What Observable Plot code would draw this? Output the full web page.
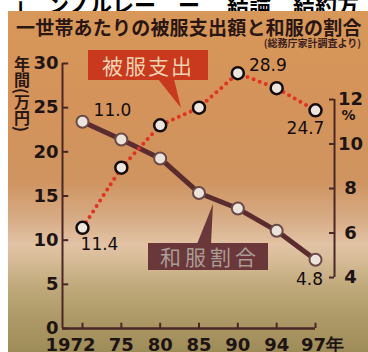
<!DOCTYPE html>
<html><head><meta charset="utf-8">
<script src="https://cdn.jsdelivr.net/npm/d3@7"></script>
<script src="https://cdn.jsdelivr.net/npm/@observablehq/plot@0.6"></script>
<style>
body{margin:0;background:#fff;}
#wrap{position:relative;width:368px;height:352px;overflow:hidden;background:#fff;font-family:"DejaVu Sans",sans-serif;}
#top{position:absolute;left:0;top:0;width:368px;height:11px;overflow:hidden;}
#top span{position:absolute;left:14px;top:-13px;font:bold 22px "Noto Sans CJK JP";color:#000;white-space:pre;}
#bg{position:absolute;left:8px;top:11px;right:0;bottom:0;
 background:linear-gradient(to bottom,#d89859 0px,#d4935a 90px,#cf9460 170px,#d6aa82 205px,#e2c3a5 234px,#d8bc98 248px,#c0aa7c 275px,#ae9a68 305px,#9e8c58 341px);}
#chart{position:absolute;left:0;top:0;}
.ov{position:absolute;white-space:nowrap;}
#title{left:16px;top:17px;font:bold 19px/1 "Noto Sans CJK JP";color:#2a1614;letter-spacing:0.2px;}
#sub{right:7px;top:38px;font:bold 10px/1 "Noto Sans CJK JP";color:#3a2020;}
#ytitle{left:14px;top:56px;font:bold 16px/1 "Noto Sans CJK JP";color:#2a1614;writing-mode:vertical-rl;}
#redbox{left:88px;top:50px;width:120px;height:30px;background:#c8391e;color:#f0d2b0;font:21px/30px "Noto Sans CJK JP";text-align:center;letter-spacing:2px;}
#brownbox{left:148px;top:243px;width:120px;height:27px;background:#6a383a;color:#aa9c96;font:21px/27px "Noto Sans CJK JP";text-align:center;letter-spacing:4px;text-indent:4px;}
#ptr{position:absolute;left:0;top:0;}
</style></head>
<body><div id="wrap">
<div id="top"><span>」　ンノルレー　ー　 結論　結約方</span></div>
<div id="bg"></div>
<div id="chart"></div>
<svg id="ptr" width="368" height="352"><polygon points="158,79 174,79 181,108" fill="#c8391e"/><polygon points="197,244 211,244 213,204" fill="#6a383a"/></svg>
<div class="ov" id="title">一世帯あたりの被服支出額と和服の割合</div>
<div class="ov" id="sub">(総務庁家計調査より)</div>
<div class="ov" id="ytitle">年間(万円)</div>
<div class="ov" id="redbox">被服支出</div>
<div class="ov" id="brownbox">和服割合</div>
</div>
<script>
const years = ["1972","75","80","85","90","94","97年"];
const spending = [11.4, 18.2, 23.0, 25.0, 28.9, 27.2, 24.7];
const kimonoShare = [11.0, 10.2, 9.35, 7.8, 7.1, 6.1, 4.8];
const leftTicks = [0,5,10,15,20,25,30];
const rightTicks = [4,6,8,10,12];
const spendLabels = [{i:0, v:11.4, t:"11.4"},{i:4, v:28.9, t:"28.9"},{i:6, v:24.7, t:"24.7"}];
const shareLabels = [{i:0, v:11.0, t:"11.0"},{i:6, v:4.8, t:"4.8"}];

const data = years.map((y,i)=>({i, year:y, spend:spending[i], share:kimonoShare[i]}));
// right axis (%) mapped onto the left scale
const pctToY = p => 5.77 + (p-4)*2.519;
const xMin = -0.515, xR = 6.49;
const axisColor = "#4a2626";

const chart = Plot.plot({
  width:368, height:352,
  marginLeft:62, marginRight:53, marginTop:63, marginBottom:24,
  style:{background:"transparent", overflow:"visible", fontFamily:"DejaVu Sans"},
  x:{type:"linear", domain:[xMin,6], axis:null},
  y:{domain:[0,30], axis:null},
  marks:[
    // left axis
    Plot.ruleX([xMin], {y1:0, y2:30, stroke:axisColor, strokeWidth:2}),
    Plot.ruleY(leftTicks, {y:d=>d, x1:xMin, x2:xMin+0.16, stroke:axisColor, strokeWidth:2}),
    Plot.text(leftTicks, {x:xMin, y:d=>d, text:d=>String(d), textAnchor:"end", dx:-4, fontSize:18, fontWeight:"bold", fill:"#1e1414"}),
    // bottom axis
    Plot.ruleY([0], {x1:xMin, x2:6, stroke:axisColor, strokeWidth:2.5}),
    Plot.ruleX(d3.range(years.length), {x:d=>d, y1:0, y2:0.6, stroke:axisColor, strokeWidth:2}),
    Plot.text(years.slice(0,1), {x:0, y:0, text:d=>d, dy:17, dx:-12, fontSize:18, fontWeight:"bold", fill:"#1e1414"}),
    Plot.text(years.slice(1,6), {x:(d,i)=>i+1, y:0, text:d=>d, dy:17, fontSize:18, fontWeight:"bold", fill:"#1e1414"}),
    Plot.text(years.slice(6), {x:6, y:0, text:d=>d, dy:17, dx:7, fontSize:18, fontWeight:"bold", fill:"#1e1414"}),
    // right axis
    Plot.ruleX([xR], {y1:pctToY(4), y2:pctToY(12), stroke:axisColor, strokeWidth:2}),
    Plot.ruleY(rightTicks, {y:pctToY, x1:xR-0.13, x2:xR, stroke:axisColor, strokeWidth:2}),
    Plot.text(rightTicks, {x:xR, y:pctToY, text:d=>String(d), dx:16, fontSize:18, fontWeight:"bold", fill:"#1e1414"}),
    Plot.text(["%"], {x:xR, y:pctToY(12), text:d=>d, dx:14, dy:16, fontSize:14, fontWeight:"bold", fill:"#1e1414"}),
    // kimono share line
    Plot.line(data, {x:"i", y:d=>pctToY(d.share), stroke:"#5a2c2e", strokeWidth:5}),
    // spending dotted line
    Plot.line(data, {x:"i", y:"spend", stroke:"#e03322", strokeWidth:4, strokeDasharray:"0,6.5", strokeLinecap:"round"}),
    Plot.dot(data, {x:"i", y:d=>pctToY(d.share), r:6, fill:"#ece4da", stroke:"#6a4a48", strokeWidth:2}),
    Plot.dot(data, {x:"i", y:"spend", r:6, fill:"#eee6dc", stroke:"#140c0c", strokeWidth:2.5}),
    // value labels
    Plot.text(spendLabels.slice(0,1), {x:"i", y:"v", text:"t", dx:17, dy:17, fontSize:17, fill:"#140c0c"}),
    Plot.text(spendLabels.slice(1,2), {x:"i", y:"v", text:"t", dx:30, dy:-8, fontSize:17, fill:"#140c0c"}),
    Plot.text(spendLabels.slice(2,3), {x:"i", y:"v", text:"t", dx:-10, dy:18, fontSize:17, fill:"#140c0c"}),
    Plot.text(shareLabels.slice(0,1), {x:"i", y:d=>pctToY(d.v), text:"t", dx:30, dy:-11, fontSize:17, fill:"#140c0c"}),
    Plot.text(shareLabels.slice(1,2), {x:"i", y:d=>pctToY(d.v), text:"t", dx:-6, dy:20, fontSize:17, fill:"#140c0c"})
  ]
});
document.getElementById("chart").appendChild(chart);
</script>
</body></html>
